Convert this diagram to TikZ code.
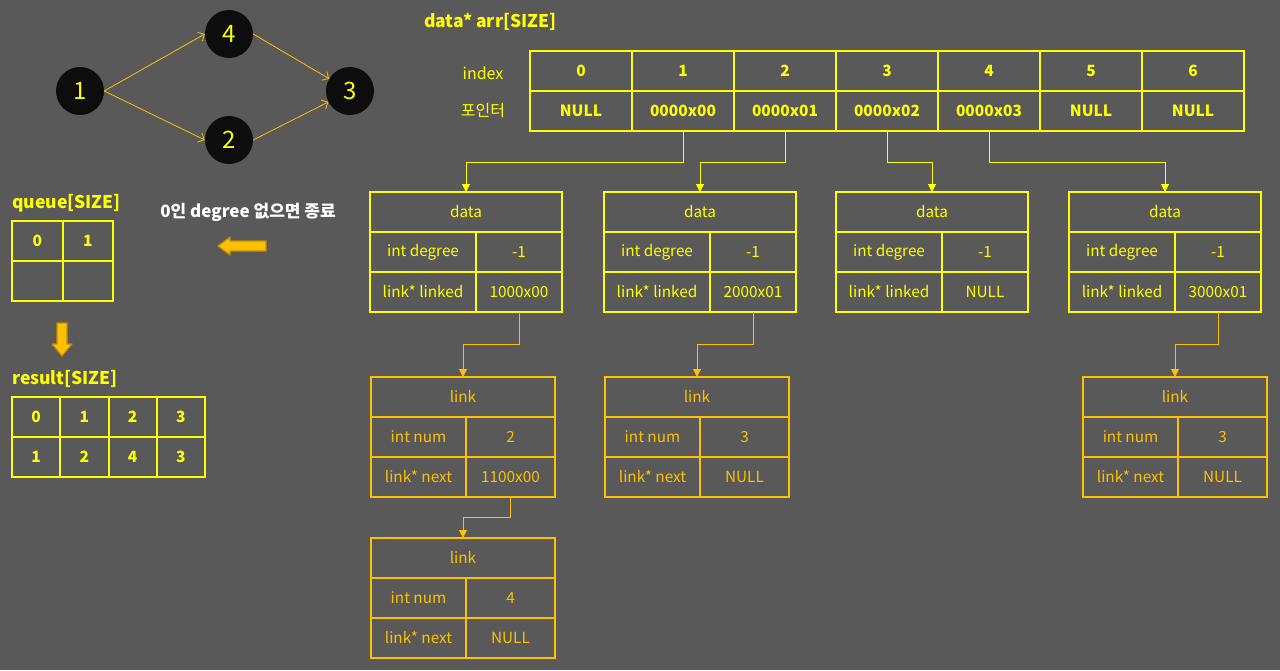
\documentclass[tikz,border=0pt]{standalone}
\usepackage{fontspec}
\setmainfont{Noto Sans CJK KR}
\usetikzlibrary{positioning,arrows.meta}
\definecolor{bggray}{HTML}{595959}
\definecolor{ptryellow}{HTML}{FFFF00}
\definecolor{linkgold}{HTML}{FFC000}
\definecolor{blockedge}{HTML}{BF9000}
\definecolor{vertexfill}{HTML}{0D0D0D}

\begin{document}
\begin{tikzpicture}[x=1pt, y=-1pt,
  cell/.style={draw=ptryellow, line width=1.6pt, anchor=north west,
               outer sep=0pt, inner sep=0pt, minimum height=40pt,
               text=ptryellow, font=\fontsize{15.3}{18}\selectfont},
  hcell/.style={cell, minimum width=102pt, font=\fontsize{15.5}{18}\selectfont\bfseries},
  qcell/.style={cell, line width=2pt, minimum width=50.5pt, font=\fontsize{15.5}{18}\selectfont\bfseries},
  rcell/.style={qcell, minimum width=48.25pt},
  dtitle/.style={cell, minimum width=192pt},
  dkey/.style={cell, minimum width=106pt},
  dval/.style={cell, minimum width=86pt},
  ltitle/.style={cell, draw=linkgold, text=linkgold, minimum width=184pt},
  lkey/.style={ltitle, minimum width=95pt},
  lval/.style={ltitle, minimum width=89pt},
  vertex/.style={circle, fill=vertexfill, minimum size=48pt, inner sep=0pt,
                 text=ptryellow, font=\fontsize{24}{28}\selectfont},
  edge/.style={-{Straight Barb[length=5pt,width=10pt]}, draw=linkgold, line width=0.8pt},
  ptr/.style={-{Triangle[length=8pt,width=8pt]}, draw=ptryellow, line width=1pt},
  lptr/.style={ptr, draw=linkgold},
  ttl/.style={anchor=west, inner xsep=0pt, text=ptryellow, font=\fontsize{17.5}{20}\selectfont\bfseries},
  lbl/.style={text=ptryellow, font=\fontsize{16}{19}\selectfont},
  blockarr/.style={fill=linkgold, draw=blockedge, line width=1.2pt, line join=round},
]

\fill[bggray] (0,0) rectangle (1280,670);
\useasboundingbox (0,0) rectangle (1280,670);

% ---- graph ----
\node[vertex] (v1) at (80,91) {1};
\node[vertex] (v4) at (229,34) {4};
\node[vertex] (v2) at (229,140) {2};
\node[vertex] (v3) at (350,91) {3};

\draw[edge] (v1.east) -- (v4.west);
\draw[edge] (v1.east) -- (v2.west);
\draw[edge] (v4.east) -- (v3);
\draw[edge] (v2.east) -- (v3);

% ---- queue / result ----
\node[ttl] (qttl) at (12,203) {queue[SIZE]};
\node[qcell] (q0) at (12,221) {0};
\node[qcell] (q1) at (q0.north east) {1};
\node[qcell] (q2) at (q0.south west) {};
\node[qcell] (q3) at (q1.south west) {};

\filldraw[blockarr] (57,323) -- (67,323) -- (67,344) -- (72,344)
  -- (62,356) -- (52,344) -- (57,344) -- cycle;

\node[ttl] (rttl) at (12,379) {result[SIZE]};
\node[rcell] (r0) at (12,397) {0};
\node[rcell] (r1) at (r0.north east) {1};
\node[rcell] (r2) at (r1.north east) {2};
\node[rcell] (r3) at (r2.north east) {3};
\node[rcell] (s0) at (r0.south west) {1};
\node[rcell] (s1) at (r1.south west) {2};
\node[rcell] (s2) at (r2.south west) {4};
\node[rcell] (s3) at (r3.south west) {3};

\node[text=white, font=\fontsize{17}{20}\selectfont\bfseries] (stop) at (248,212)
  {0인 degree 없으면 종료};
\filldraw[blockarr] (218,246) -- (230,237) -- (230,241) -- (266,241)
  -- (266,251) -- (230,251) -- (230,255) -- cycle;

% ---- data* arr[SIZE] ----
\node[ttl] (arrttl) at (424,22) {data* arr[SIZE]};
\node[lbl] (idxlbl) at (483,73) {index};
\node[lbl] (ptrlbl) at (483,111) {포인터};

\node[hcell] (idx0) at (530,51) {0};
\node[hcell] (idx1) at (idx0.north east) {1};
\node[hcell] (idx2) at (idx1.north east) {2};
\node[hcell] (idx3) at (idx2.north east) {3};
\node[hcell] (idx4) at (idx3.north east) {4};
\node[hcell] (idx5) at (idx4.north east) {5};
\node[hcell] (idx6) at (idx5.north east) {6};

\node[hcell] (ptr0) at (idx0.south west) {NULL};
\node[hcell] (ptr1) at (idx1.south west) {0000x00};
\node[hcell] (ptr2) at (idx2.south west) {0000x01};
\node[hcell] (ptr3) at (idx3.south west) {0000x02};
\node[hcell] (ptr4) at (idx4.south west) {0000x03};
\node[hcell] (ptr5) at (idx5.south west) {NULL};
\node[hcell] (ptr6) at (idx6.south west) {NULL};

% ---- data boxes ----
\node[dtitle] (dat1) at (370,192) {data};
\node[dkey] (dat1deg) at (dat1.south west) {int degree};
\node[dval] (dat1degv) at (dat1deg.north east) {-1};
\node[dkey] (dat1lnk) at (dat1deg.south west) {link* linked};
\node[dval] (dat1lnkv) at (dat1lnk.north east) {1000x00};

\node[dtitle] (dat2) at (604,192) {data};
\node[dkey] (dat2deg) at (dat2.south west) {int degree};
\node[dval] (dat2degv) at (dat2deg.north east) {-1};
\node[dkey] (dat2lnk) at (dat2deg.south west) {link* linked};
\node[dval] (dat2lnkv) at (dat2lnk.north east) {2000x01};

\node[dtitle] (dat3) at (836,192) {data};
\node[dkey] (dat3deg) at (dat3.south west) {int degree};
\node[dval] (dat3degv) at (dat3deg.north east) {-1};
\node[dkey] (dat3lnk) at (dat3deg.south west) {link* linked};
\node[dval] (dat3lnkv) at (dat3lnk.north east) {NULL};

\node[dtitle] (dat4) at (1069,192) {data};
\node[dkey] (dat4deg) at (dat4.south west) {int degree};
\node[dval] (dat4degv) at (dat4deg.north east) {-1};
\node[dkey] (dat4lnk) at (dat4deg.south west) {link* linked};
\node[dval] (dat4lnkv) at (dat4lnk.north east) {3000x01};

\draw[ptr] (ptr1.south) -- ++(0,31) -| (dat1.north);
\draw[ptr] (ptr2.south) -- ++(0,31) -| (dat2.north);
\draw[ptr] (ptr3.south) -- ++(0,31) -| (dat3.north);
\draw[ptr] (ptr4.south) -- ++(0,31) -| (dat4.north);

% ---- link boxes ----
\node[ltitle] (lk1) at (371,377) {link};
\node[lkey] (lk1num) at (lk1.south west) {int num};
\node[lval] (lk1numv) at (lk1num.north east) {2};
\node[lkey] (lk1nxt) at (lk1num.south west) {link* next};
\node[lval] (lk1nxtv) at (lk1nxt.north east) {1100x00};

\node[ltitle] (lk2) at (371,538) {link};
\node[lkey] (lk2num) at (lk2.south west) {int num};
\node[lval] (lk2numv) at (lk2num.north east) {4};
\node[lkey] (lk2nxt) at (lk2num.south west) {link* next};
\node[lval] (lk2nxtv) at (lk2nxt.north east) {NULL};

\node[ltitle] (lk3) at (605,377) {link};
\node[lkey] (lk3num) at (lk3.south west) {int num};
\node[lval] (lk3numv) at (lk3num.north east) {3};
\node[lkey] (lk3nxt) at (lk3num.south west) {link* next};
\node[lval] (lk3nxtv) at (lk3nxt.north east) {NULL};

\node[ltitle] (lk4) at (1083,377) {link};
\node[lkey] (lk4num) at (lk4.south west) {int num};
\node[lval] (lk4numv) at (lk4num.north east) {3};
\node[lkey] (lk4nxt) at (lk4num.south west) {link* next};
\node[lval] (lk4nxtv) at (lk4nxt.north east) {NULL};

\draw[lptr] (dat1lnkv.south) -- ++(0,32) -| (lk1.north);
\draw[lptr] (lk1nxtv.south) -- ++(0,20) -| (lk2.north);
\draw[lptr] (dat2lnkv.south) -- ++(0,32) -| (lk3.north);
\draw[lptr] (dat4lnkv.south) -- ++(0,32) -| (lk4.north);

\end{tikzpicture}
\end{document}
